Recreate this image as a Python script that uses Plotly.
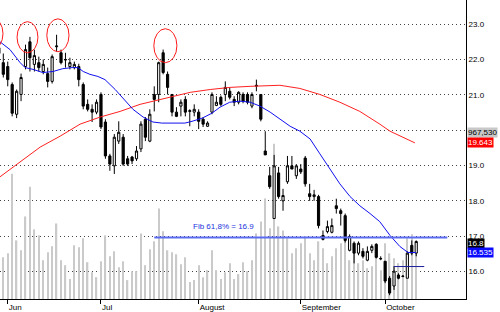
import plotly.graph_objects as go

# trading-day index (x) ; -1 is the partially visible first candle
day_idx = list(range(-1, 94))

opens = [22.33, 21.91, 21.80, 21.29, 20.45, 21.01, 21.80, 22.50, 21.86, 21.91,
         21.66, 21.60, 21.38, 22.36, 22.19, 22.00, 21.80, 21.77, 21.80, 21.29,
         20.73, 20.59, 20.51, 21.01, 20.23, 19.27, 18.99, 19.69, 19.80, 19.19,
         19.24, 19.19, 19.47, 20.31, 19.69, 21.01, 21.01, 22.19, 21.58, 21.01,
         20.51, 20.68, 20.87, 20.53, 20.51, 20.51, 20.31, 20.11, 20.51, 20.70,
         20.93, 21.01, 21.10, 20.87, 20.79, 21.01, 21.01, 20.68, 21.27, 21.01,
         19.41, 18.71, 17.50, 18.79, 18.00, 18.54, 18.99, 18.71, 18.90, 19.21,
         18.20, 18.12, 18.12, 17.02, 17.13, 17.11, 17.86, 17.72, 17.58, 16.60,
         16.80, 16.52, 16.57, 16.32, 16.60, 16.77, 16.37, 16.29, 15.81, 15.59,
         15.90, 15.87, 15.81, 16.74, 16.52]
highs = [22.42, 22.17, 21.94, 21.35, 21.15, 21.60, 22.42, 22.64, 22.28, 22.08,
         22.00, 21.77, 22.14, 22.70, 22.28, 22.19, 22.05, 21.94, 21.88, 21.35,
         20.87, 20.73, 20.87, 21.07, 20.31, 19.33, 19.89, 20.25, 19.89, 19.27,
         19.27, 19.55, 20.25, 20.37, 20.59, 21.24, 21.94, 22.28, 21.66, 21.01,
         20.65, 20.87, 20.96, 20.59, 20.73, 20.59, 20.37, 20.25, 21.07, 20.96,
         20.98, 21.38, 21.21, 20.96, 21.10, 21.07, 21.07, 21.07, 21.43, 21.01,
         19.97, 18.96, 19.30, 18.96, 18.34, 19.27, 19.27, 19.04, 19.04, 19.27,
         18.48, 18.31, 18.17, 17.16, 17.44, 17.50, 18.06, 17.78, 17.64, 17.05,
         16.85, 16.85, 16.66, 16.71, 16.77, 16.80, 16.43, 16.29, 15.87, 16.15,
         15.95, 15.90, 16.57, 16.88, 16.88]
lows = [22.08, 21.49, 21.24, 20.39, 20.34, 20.82, 21.72, 21.66, 21.66, 21.66,
        21.58, 21.21, 21.32, 22.22, 21.86, 21.77, 21.72, 21.72, 21.24, 20.59,
        20.53, 20.23, 20.45, 20.03, 19.19, 18.85, 18.76, 19.61, 18.99, 18.99,
        19.04, 19.13, 19.38, 19.69, 19.66, 20.53, 20.79, 21.58, 21.01, 20.39,
        20.37, 20.39, 20.39, 20.11, 20.39, 20.03, 20.09, 20.09, 20.45, 20.68,
        20.68, 20.82, 20.87, 20.68, 20.73, 20.76, 20.73, 20.62, 21.10, 20.25,
        19.30, 18.34, 17.50, 18.06, 17.72, 18.48, 18.90, 18.62, 18.76, 18.40,
        18.00, 18.00, 17.22, 16.88, 17.08, 17.08, 17.64, 17.30, 16.82, 16.57,
        16.23, 16.46, 16.37, 16.29, 16.52, 16.37, 16.32, 15.67, 15.33, 15.48,
        15.78, 15.84, 15.81, 16.46, 16.43]
closes = [22.17, 21.58, 21.43, 20.48, 21.10, 21.49, 22.28, 22.05, 22.11, 21.77,
          21.86, 21.38, 22.08, 22.38, 21.91, 21.99, 21.91, 21.86, 21.43, 20.68,
          20.59, 20.51, 20.79, 20.09, 19.27, 19.04, 19.80, 19.94, 19.04, 19.04,
          19.13, 19.41, 20.17, 19.80, 20.45, 20.87, 21.91, 21.63, 21.21, 20.51,
          20.39, 20.79, 20.51, 20.55, 20.59, 20.25, 20.17, 20.20, 21.01, 20.79,
          20.73, 21.21, 20.93, 20.79, 21.07, 20.82, 20.79, 21.01, 21.25, 20.31,
          19.30, 18.40, 18.99, 18.12, 18.15, 18.99, 18.90, 18.99, 18.82, 18.48,
          18.12, 18.17, 17.30, 16.91, 17.27, 17.30, 17.78, 17.64, 16.88, 16.99,
          16.52, 16.80, 16.43, 16.57, 16.71, 16.40, 16.36, 15.73, 15.39, 16.01,
          15.81, 15.86, 16.52, 16.52, 16.85]
volumes = [900000, 701000, 768000, 2104000, 985000, 818000, 1386000, 1887000, 1169000, 1069000,
           651000, 785000, 885000, 1269000, 651000, 568000, 334000, 902000, 868000, 1019000,
           618000, 451000, 367000, 635000, 1069000, 718000, 802000, 534000, 635000, 317000,
           468000, 468000, 1102000, 568000, 835000, 969000, 1520000, 1136000, 818000, 785000,
           752000, 585000, 701000, 284000, 317000, 568000, 367000, 484000, 818000, 484000,
           334000, 451000, 601000, 334000, 418000, 618000, 468000, 651000, 1102000, 1303000,
           1687000, 1186000, 2605000, 1219000, 1152000, 1019000, 768000, 852000, 935000, 1052000,
           768000, 651000, 969000, 852000, 601000, 718000, 852000, 935000, 1019000, 651000,
           768000, 601000, 651000, 518000, 551000, 718000, 484000, 935000, 768000, 685000,
           601000, 651000, 1019000, 1086000, 967530]

ma_fast_x = [-0.74, 1.5, 3.8, 4.9, 6.7, 8.9, 11.2, 13.4, 15.5, 16.8, 18.0, 19.5, 21.3, 22.9,
             25.2, 26.7, 29.2, 31.5, 33.7, 35.7, 38.0, 40.9, 42.5, 44.8, 47.0, 48.8, 51.0,
             53.3, 55.6, 57.8, 60.1, 62.3, 64.6, 66.8, 69.1, 71.3, 73.6, 75.8, 78.1, 80.3,
             82.6, 84.8, 87.1, 89.3, 91.1, 93.0]
ma_fast_y = [22.50, 22.28, 21.91, 21.77, 21.72, 21.63, 21.66, 21.74, 21.77, 21.77, 21.66,
             21.58, 21.52, 21.43, 21.15, 20.93, 20.59, 20.37, 20.23, 20.20, 20.20, 20.20,
             20.25, 20.34, 20.48, 20.65, 20.79, 20.82, 20.79, 20.68, 20.51, 20.31, 20.11,
             19.97, 19.75, 19.33, 18.90, 18.48, 18.12, 17.86, 17.64, 17.41, 17.02, 16.71,
             16.54, 16.535]
ma_slow_x = [-0.74, 3.8, 8.3, 12.8, 17.3, 21.8, 26.3, 30.8, 35.3, 42.1, 46.6, 51.1, 55.6,
             60.1, 62.3, 66.8, 71.3, 75.8, 80.3, 84.8, 87.1, 92.7]
ma_slow_y = [18.68, 19.10, 19.52, 19.83, 20.17, 20.37, 20.53, 20.73, 20.87, 21.07, 21.15,
             21.21, 21.24, 21.27, 21.27, 21.18, 21.01, 20.79, 20.53, 20.17, 19.97, 19.64]

month_labels = ["Jun", "Jul", "August", "September", "October"]
month_start_idx = [1, 22, 44, 67, 86]
price_ticks = [16, 17, 18, 19, 20, 21, 22, 23]

fib_level = 16.96
fib_text = "Fib 61,8% = 16.9"
last_close = 16.8
ma_fast_last = 16.535
ma_slow_last = 19.643
last_volume_text = "967,530"

FONT = "Liberation Sans, Arial, sans-serif"

fig = go.Figure()
fig.add_trace(go.Bar(x=day_idx, y=volumes, yaxis="y", width=0.3,
                     marker=dict(color="#cacaca", line=dict(width=0)), showlegend=False))
fig.add_trace(go.Scatter(x=ma_slow_x, y=ma_slow_y, yaxis="y2", mode="lines",
                         line=dict(color="#ff2020", width=1), showlegend=False))
fig.add_trace(go.Scatter(x=ma_fast_x, y=ma_fast_y, yaxis="y2", mode="lines",
                         line=dict(color="#1010ee", width=1), showlegend=False))
fig.add_trace(go.Candlestick(x=day_idx, open=opens, high=highs, low=lows, close=closes,
                             yaxis="y2",
                             increasing=dict(fillcolor="white", line=dict(color="black", width=1)),
                             decreasing=dict(fillcolor="black", line=dict(color="black", width=1)),
                             showlegend=False))

shapes = []
# fib line
shapes.append(dict(type="line", xref="x", yref="y2", x0=34, x1=100, y0=fib_level, y1=fib_level,
                   line=dict(color="#5b6cf2", width=2)))
# short dark-blue line
shapes.append(dict(type="line", xref="x", yref="y2", x0=88, x1=94.8, y0=16.14, y1=16.14,
                   line=dict(color="#1a1a9a", width=1)))
# red circles
for (xa, xb, ya, yb) in [(-5.0, -0.07, 22.28, 23.18), (3.1, 7.8, 22.19, 23.07),
                         (9.8, 14.8, 22.22, 23.15), (33.9, 39.1, 21.91, 22.87)]:
    shapes.append(dict(type="circle", xref="x", yref="y2", x0=xa, x1=xb, y0=ya, y1=yb,
                       line=dict(color="#ff1a1a", width=1)))

annotations = [
    dict(text=fib_text, xref="x", yref="y2", x=49.6, y=17.27, showarrow=False,
         font=dict(family=FONT, size=8, color="#2233dd")),
]
for (val, txt, bg, fg) in [(19.93, last_volume_text, "#c8c8c8", "black"),
                            (ma_slow_last, f"{ma_slow_last:.3f}", "#ff0000", "white"),
                            (last_close, f"{last_close:.1f}", "black", "white"),
                            (ma_fast_last, f"{ma_fast_last:.3f}", "#0a0aff", "white")]:
    annotations.append(dict(text=txt, xref="paper", yref="y2", x=1, y=val, xanchor="left",
                            yanchor="middle", xshift=1, showarrow=False, bgcolor=bg,
                            borderpad=0, font=dict(family=FONT, size=8, color=fg)))

fig.update_layout(
    width=500, height=312,
    margin=dict(l=0, r=34, t=0, b=11),
    paper_bgcolor="white", plot_bgcolor="white",
    showlegend=False,
    shapes=shapes, annotations=annotations,
    xaxis=dict(range=[-0.743, 104.21], rangeslider=dict(visible=False),
               tickmode="array", tickvals=month_start_idx, ticktext=month_labels,
               ticks="outside", ticklen=4, tickcolor="black", ticklabelposition="outside right",
               showline=True, linecolor="black", linewidth=1, showgrid=False, zeroline=False,
               tickfont=dict(family=FONT, size=8, color="black")),
    yaxis=dict(range=[0, 5021000], visible=False, showgrid=False, fixedrange=True),
    yaxis2=dict(range=[15.222, 23.683], overlaying="y", side="right",
                tickmode="array", tickvals=price_ticks,
                ticktext=[f"{v:.1f}" for v in price_ticks],
                showgrid=True, gridcolor="#444444", griddash="1px,3px", gridwidth=1,
                showline=True, linecolor="black", linewidth=1, ticks="", zeroline=False,
                tickfont=dict(family=FONT, size=8, color="black")),
)

fig.write_html("out.html")
